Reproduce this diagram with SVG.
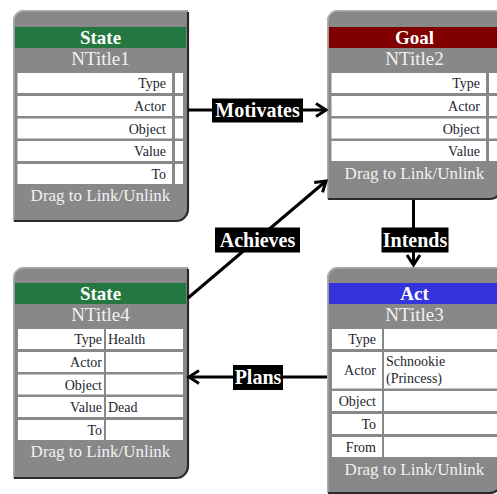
<svg xmlns="http://www.w3.org/2000/svg" width="497" height="494" viewBox="0 0 497 494">
<style>
.body{fill:#888888}
.lite{fill:none;stroke:#b0b0b0;stroke-width:1.5}
.dark{fill:none;stroke:#2a2a2a;stroke-width:2.2}
.cell{fill:#ffffff}
.ttl{font-family:"Liberation Serif",serif;font-size:19px;font-weight:bold;fill:#ffffff;text-anchor:middle}
.sub{font-family:"Liberation Serif",serif;font-size:19px;fill:#f2f2f2;text-anchor:middle}
.lbl{font-family:"Liberation Serif",serif;font-size:14px;fill:#1e1e30;text-anchor:end}
.val{font-family:"Liberation Serif",serif;font-size:14px;fill:#1e1e30}
.drag{font-family:"Liberation Serif",serif;font-size:17px;fill:#f2f2f2;text-anchor:middle}
.edge{stroke:#000;stroke-width:3;fill:none}
.elbg{fill:#000}
.eltx{font-family:"Liberation Serif",serif;font-size:20px;font-weight:bold;fill:#ffffff;text-anchor:middle}
</style>
<defs>
<marker id="arr" markerUnits="userSpaceOnUse" markerWidth="14" markerHeight="16" refX="11" refY="7" orient="auto" overflow="visible">
<path d="M1,0.5 L11,7 L1,13.5" fill="none" stroke="#000" stroke-width="3"/>
</marker>
</defs>
<rect width="497" height="494" fill="#ffffff"/>

<g id="node1">
<path class="body" d="M13,21 A11,11 0 0 1 24,10 H188 V209 A12,12 0 0 1 176,221 H13 Z"/>
<path class="lite" d="M13.7,221 V21 A10.5,10.5 0 0 1 24,10.7 H187"/>
<path class="dark" d="M188,12 V209 A12,12 0 0 1 176,221 H14"/>
<rect x="15" y="27" width="171" height="21" fill="#24783f"/>
<text class="ttl" x="100.5" y="44">State</text>
<text class="sub" x="100.5" y="65">NTitle1</text>
<rect class="cell" x="17.5" y="73" width="154.5" height="20"/><rect class="cell" x="175" y="73" width="8" height="20"/>
<rect class="cell" x="17.5" y="96" width="154.5" height="20"/><rect class="cell" x="175" y="96" width="8" height="20"/>
<rect class="cell" x="17.5" y="118.5" width="154.5" height="20"/><rect class="cell" x="175" y="118.5" width="8" height="20"/>
<rect class="cell" x="17.5" y="141" width="154.5" height="20"/><rect class="cell" x="175" y="141" width="8" height="20"/>
<rect class="cell" x="17.5" y="164" width="154.5" height="20"/><rect class="cell" x="175" y="164" width="8" height="20"/>
<text class="lbl" x="166" y="88">Type</text>
<text class="lbl" x="166" y="111">Actor</text>
<text class="lbl" x="166" y="133.5">Object</text>
<text class="lbl" x="166" y="156">Value</text>
<text class="lbl" x="166" y="179">To</text>
<text class="drag" x="100.5" y="201">Drag to Link/Unlink</text>
</g>

<g id="node2">
<path class="body" d="M327,21 A11,11 0 0 1 338,10 H502 V187 A12,12 0 0 1 490,199 H327 Z"/>
<path class="lite" d="M327.7,199 V21 A10.5,10.5 0 0 1 338,10.7 H501"/>
<path class="dark" d="M502,12 V187 A12,12 0 0 1 490,199 H328"/>
<rect x="329" y="27" width="171" height="21" fill="#800000"/>
<text class="ttl" x="414.5" y="44">Goal</text>
<text class="sub" x="414.5" y="65">NTitle2</text>
<rect class="cell" x="331.5" y="73" width="154.5" height="20"/><rect class="cell" x="489" y="73" width="8" height="20"/>
<rect class="cell" x="331.5" y="96" width="154.5" height="20"/><rect class="cell" x="489" y="96" width="8" height="20"/>
<rect class="cell" x="331.5" y="118.5" width="154.5" height="20"/><rect class="cell" x="489" y="118.5" width="8" height="20"/>
<rect class="cell" x="331.5" y="141" width="154.5" height="20"/><rect class="cell" x="489" y="141" width="8" height="20"/>
<text class="lbl" x="480" y="88">Type</text>
<text class="lbl" x="480" y="111">Actor</text>
<text class="lbl" x="480" y="133.5">Object</text>
<text class="lbl" x="480" y="156">Value</text>
<text class="drag" x="414.5" y="179">Drag to Link/Unlink</text>
</g>

<g id="node4">
<path class="body" d="M13,278 A11,11 0 0 1 24,267 H188 V466 A12,12 0 0 1 176,478 H13 Z"/>
<path class="lite" d="M13.7,478 V278 A10.5,10.5 0 0 1 24,267.7 H187"/>
<path class="dark" d="M188,269 V466 A12,12 0 0 1 176,478 H14"/>
<rect x="15" y="283" width="171" height="21" fill="#24783f"/>
<text class="ttl" x="100.5" y="300">State</text>
<text class="sub" x="100.5" y="321">NTitle4</text>
<rect class="cell" x="18" y="329" width="86" height="20"/><rect class="cell" x="106" y="329" width="77" height="20"/>
<rect class="cell" x="18" y="352" width="86" height="20"/><rect class="cell" x="106" y="352" width="77" height="20"/>
<rect class="cell" x="18" y="374.5" width="86" height="20"/><rect class="cell" x="106" y="374.5" width="77" height="20"/>
<rect class="cell" x="18" y="397" width="86" height="20"/><rect class="cell" x="106" y="397" width="77" height="20"/>
<rect class="cell" x="18" y="420" width="86" height="20"/><rect class="cell" x="106" y="420" width="77" height="20"/>
<text class="lbl" x="102" y="344">Type</text>
<text class="lbl" x="102" y="367">Actor</text>
<text class="lbl" x="102" y="389.5">Object</text>
<text class="lbl" x="102" y="412">Value</text>
<text class="lbl" x="102" y="435">To</text>
<text class="val" x="108" y="344">Health</text>
<text class="val" x="108" y="412">Dead</text>
<text class="drag" x="100.5" y="457">Drag to Link/Unlink</text>
</g>

<g id="node3">
<path class="body" d="M327,278 A11,11 0 0 1 338,267 H502 V481 A12,12 0 0 1 490,493 H327 Z"/>
<path class="lite" d="M327.7,493 V278 A10.5,10.5 0 0 1 338,267.7 H501"/>
<path class="dark" d="M502,269 V481 A12,12 0 0 1 490,493 H328"/>
<rect x="329" y="283" width="171" height="21" fill="#3434de"/>
<text class="ttl" x="414.5" y="300">Act</text>
<text class="sub" x="414.5" y="321">NTitle3</text>
<rect class="cell" x="332" y="329" width="50" height="20"/><rect class="cell" x="384" y="329" width="115" height="20"/>
<rect class="cell" x="332" y="352" width="50" height="36.5"/><rect class="cell" x="384" y="352" width="115" height="36.5"/>
<rect class="cell" x="332" y="391" width="50" height="20"/><rect class="cell" x="384" y="391" width="115" height="20"/>
<rect class="cell" x="332" y="414" width="50" height="20"/><rect class="cell" x="384" y="414" width="115" height="20"/>
<rect class="cell" x="332" y="437" width="50" height="20"/><rect class="cell" x="384" y="437" width="115" height="20"/>
<text class="lbl" x="376" y="344">Type</text>
<text class="lbl" x="376" y="375">Actor</text>
<text class="lbl" x="376" y="406">Object</text>
<text class="lbl" x="376" y="429">To</text>
<text class="lbl" x="376" y="452">From</text>
<text class="val" x="386" y="366">Schnookie</text>
<text class="val" x="386" y="383">(Princess)</text>
<text class="drag" x="414.5" y="475">Drag to Link/Unlink</text>
</g>

<g id="connectors">
<line class="edge" x1="188" y1="110" x2="326" y2="110" marker-end="url(#arr)"/>
<line class="edge" x1="188" y1="298" x2="326" y2="181" marker-end="url(#arr)"/>
<line class="edge" x1="413.5" y1="200" x2="413.5" y2="265" marker-end="url(#arr)"/>
<line class="edge" x1="327" y1="377" x2="189" y2="377" marker-end="url(#arr)"/>
<rect class="elbg" x="212" y="98.5" width="91" height="24"/>
<text class="eltx" x="257.5" y="117">Motivates</text>
<rect class="elbg" x="215" y="227.5" width="85" height="25"/>
<text class="eltx" x="257.5" y="247">Achieves</text>
<rect class="elbg" x="381.5" y="227.5" width="67" height="25"/>
<text class="eltx" x="415" y="247">Intends</text>
<rect class="elbg" x="233" y="365" width="50" height="25"/>
<text class="eltx" x="258" y="384">Plans</text>
</g>
</svg>
